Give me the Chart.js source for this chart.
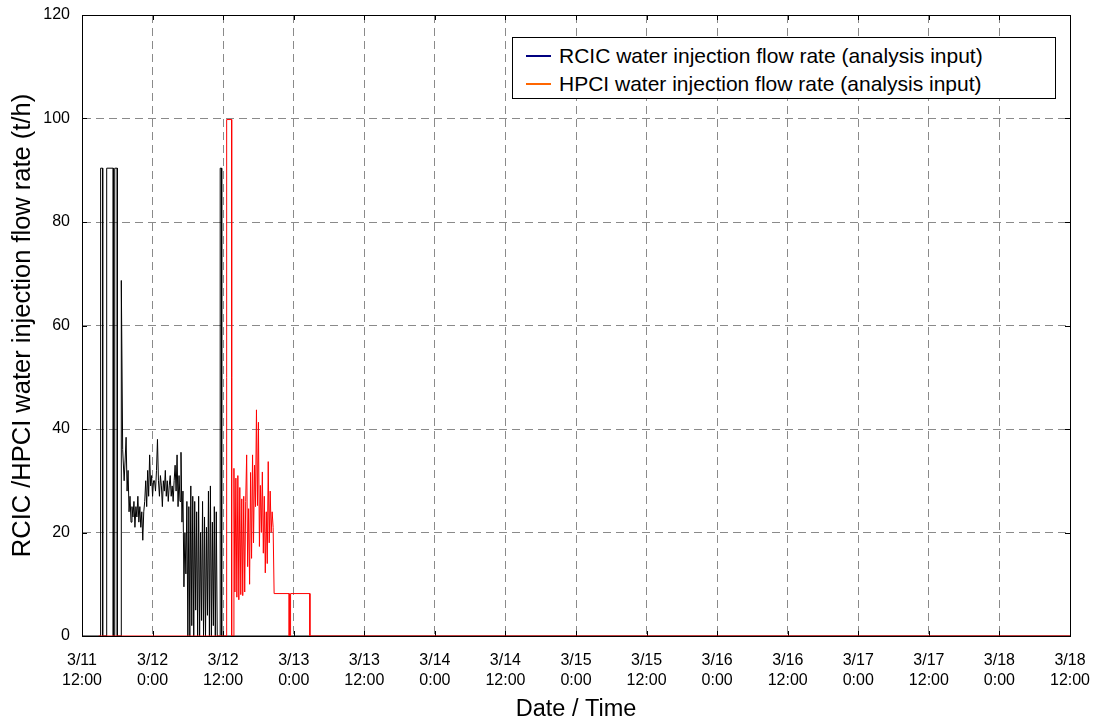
<!DOCTYPE html>
<html>
<head>
<meta charset="utf-8">
<script src="https://cdn.jsdelivr.net/npm/chart.js@4/dist/chart.umd.min.js"></script>
<style>
  html,body{margin:0;padding:0;background:#fff;}
  #wrap{position:relative;width:1097px;height:724px;}
  #legend{position:absolute;left:512px;top:37px;width:542px;height:60px;border:1px solid #000;background:#fff;
    font-family:"Liberation Sans",Arial,sans-serif;font-size:21px;color:#000;}
  .row{position:absolute;left:0;height:26px;line-height:26px;white-space:nowrap;}
  .sw{position:absolute;left:13px;top:12px;width:25px;height:2px;}
  .tx{position:absolute;left:46px;top:0;}
</style>
</head>
<body>
<div id="wrap">
  <canvas id="c" width="1097" height="724"></canvas>
  <div id="legend"></div>
</div>
<script>
// ---- data (time in minutes from 3/11 12:00) ----
const seriesNames = [
  "RCIC water injection flow rate (analysis input)",
  "HPCI water injection flow rate (analysis input)"
];
const legendColors = ["#000080", "#ff6600"];
const lineColors = ["#000000", "#ff0000"];

const rcicT = [0,190,190,211,211,252,252,319,319,334,334,360,360,401,401,415,
  430,440,450,460,470,480,490,500,510,520,530,540,550,560,570,580,590,600,610,620,
  630,640,650,660,670,680,690,700,710,720,730,740,750,760,770,780,790,800,810,820,
  830,840,850,860,870,880,890,900,910,920,930,940,950,960,970,980,990,1000,1010,1020,
  1030,1040,1050,1060,1070,1080,1090,1100,1110,1120,1130,1140,1150,1160,1170,1180,
  1190,1200,1210,1220,1230,1240,1250,1260,1270,1280,1290,1300,1310,1320,1330,1340,
  1350,1360,1370,1380,1390,1410,1410,1425,1425,10080];
const rcicV = [0,0,90.4,90.4,0,0,90.4,90.4,0,0,90.4,90.4,0,0,68.7,36,
  30,34,38.4,28,32,24,27,22,25,23,26,21,25,23,27,22,25,21,24,18.5,
  24,26,30,25,32,27,35,29,31,27,30,30,28,32,38,30,27,31,29,25,
  30,28,32,27,30,26,29,31,27,29,26,30,33,28,35,25,31,26,35.5,22,
  28,9.5,20,12,26,0,25,0,29,2,27,0,26,5,24,0,
  27,0,20,3,26,0,23,0,21,4,28,0,29,0,22,2,
  25,0,24,0,0,0,90.4,90.4,0,0];

const hpciT = [170,1476,1476,1527,1527,1545,
  1550,1560,1570,1580,1590,1600,1610,1620,1630,1640,1650,1660,1670,1680,1690,1700,
  1710,1720,1730,1740,1750,1760,1770,1780,1790,1800,1810,1820,1830,1840,1850,1860,
  1870,1880,1890,1900,1910,1920,1930,1940,1950,
  1960,2114,2114,2128,2128,2325,2325,10080];
const hpciV = [0,0,99.8,99.8,0,0,
  32.4,8.5,30.5,7.5,31,7,28.7,8,26.5,7.8,27,8.5,26,35,13.4,24.6,
  10,31.6,15,35,18,33,25,43.7,25.2,41.3,17.3,29.1,20,31.7,16,27,
  12.2,24,14,33.7,18,28,20,24,21,
  8.2,8.2,0,0,8.2,8.2,0,0];

const xTickLabels = [
  ["3/11","12:00"],["3/12","0:00"],["3/12","12:00"],["3/13","0:00"],["3/13","12:00"],
  ["3/14","0:00"],["3/14","12:00"],["3/15","0:00"],["3/15","12:00"],["3/16","0:00"],
  ["3/16","12:00"],["3/17","0:00"],["3/17","12:00"],["3/18","0:00"],["3/18","12:00"]
];
const xTitle = "Date / Time";
const yTitle = "RCIC /HPCI water injection flow rate (t/h)";

// ---- legend (HTML text) ----
const leg = document.getElementById('legend');
seriesNames.forEach((n,i)=>{
  const r = document.createElement('div');
  r.className='row';
  r.style.top = (i===0 ? 5 : 33) + 'px';
  r.style.width = '100%';
  r.innerHTML = '<div class="sw" style="background:'+legendColors[i]+'"></div><div class="tx"></div>';
  r.querySelector('.tx').textContent = n;
  leg.appendChild(r);
});

const FONT = '"Liberation Sans", Arial, sans-serif';

const frame = {
  id:'frame',
  beforeDatasetsDraw(chart){
    const {ctx, chartArea:a, scales} = chart;
    ctx.save();
    ctx.strokeStyle = '#000';
    ctx.lineWidth = 1;
    ctx.beginPath();
    scales.x.ticks.forEach(t=>{
      const px = Math.round(scales.x.getPixelForValue(t.value)) + 0.5;
      ctx.moveTo(px, a.bottom); ctx.lineTo(px, a.bottom-5);
      ctx.moveTo(px, a.top); ctx.lineTo(px, a.top+5);
    });
    scales.y.ticks.forEach(t=>{
      const py = Math.round(scales.y.getPixelForValue(t.value)) + 0.5;
      ctx.moveTo(a.left, py); ctx.lineTo(a.left+5, py);
      ctx.moveTo(a.right, py); ctx.lineTo(a.right-5, py);
    });
    ctx.stroke();
    ctx.strokeRect(Math.round(a.left)+0.5, Math.round(a.top)+0.5, Math.round(a.right-a.left), Math.round(a.bottom-a.top));
    ctx.restore();
  }
};

const toPts = (T,V)=>T.map((t,i)=>({x:t,y:V[i]}));

new Chart(document.getElementById('c'), {
  type:'line',
  data:{datasets:[
    {label:seriesNames[0], data:toPts(rcicT,rcicV), borderColor:lineColors[0], borderWidth:1, pointRadius:0, tension:0, order:1},
    {label:seriesNames[1], data:toPts(hpciT,hpciV), borderColor:lineColors[1], borderWidth:1, pointRadius:0, tension:0, order:0}
  ]},
  options:{
    responsive:false, animation:false, devicePixelRatio:1,
    layout:{padding:{top:15,right:27,left:0,bottom:0}},
    plugins:{legend:{display:false}, tooltip:{enabled:false}},
    scales:{
      x:{type:'linear', min:0, max:10080,
        ticks:{stepSize:720, maxTicksLimit:30, autoSkip:false, maxRotation:0, minRotation:0, color:'#000',
          font:{family:FONT,size:16,lineHeight:1.25}, padding:15,
          callback:(v)=>xTickLabels[Math.round(v/720)]},
        grid:{color:'#8a8a8a', drawTicks:false, lineWidth:1},
        border:{dash:[8,5], color:'#000'},
        title:{display:true, text:xTitle, color:'#000', font:{family:FONT,size:23.5,lineHeight:1}, padding:{top:0,bottom:3}},
        afterFit:(s)=>{s.height=88; s.paddingLeft=0; s.paddingRight=0;}
      },
      y:{min:0, max:120,
        ticks:{stepSize:20, color:'#000', font:{family:FONT,size:16}, padding:12},
        grid:{color:'#8a8a8a', drawTicks:false, lineWidth:1},
        border:{dash:[8,5], color:'#000'},
        title:{display:true, text:yTitle, color:'#000', font:{family:FONT,size:25.5,lineHeight:1}, padding:{top:10,bottom:0}},
        afterFit:(s)=>{s.width=82; s.paddingTop=0; s.paddingBottom=0;}
      }
    }
  },
  plugins:[frame]
});
</script>
</body>
</html>
